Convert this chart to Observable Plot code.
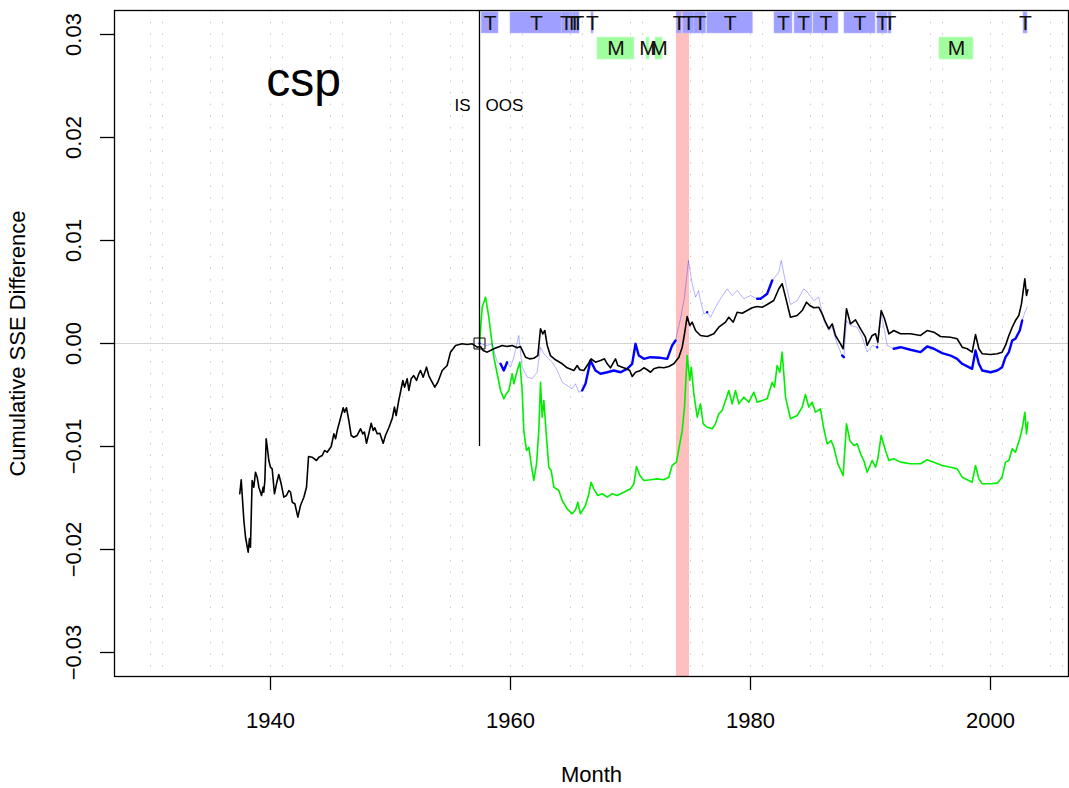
<!DOCTYPE html>
<html>
<head>
<meta charset="utf-8">
<script src="https://cdn.jsdelivr.net/npm/d3@7"></script>
<script src="https://cdn.jsdelivr.net/npm/@observablehq/plot@0.6"></script>
<style>
  html, body { margin: 0; padding: 0; background: #fff; }
  svg { display: block; font-family: "Liberation Sans", Arial, Helvetica, sans-serif; }
</style>
</head>
<body>
<div id="chart"></div>
<script>
// ---------------- data ----------------
const chartTitle = "csp";
const xTicks = [1940, 1960, 1980, 2000];
const yTicks = [-0.03, -0.02, -0.01, 0, 0.01, 0.02, 0.03];
const gridYears = [1930,1931,1935,1936,1940,1941,1945,1946,1950,1951,1955,1956,1960,1961,1965,1966,1970,1971,1975,1976,1980,1981,1985,1986,1990,1991,1995,1996,2000,2001,2005,2006];
const oosStart = 1957.417;

// black: in-sample + out-of-sample cumulative SSE difference (units of 0.001)
const blackYears = [1937.44,1937.56,1937.78,1937.92,1938.14,1938.25,1938.33,1938.47,1938.61,1938.75,1938.89,1939.03,1939.25,1939.39,1939.44,1939.53,1939.64,1939.73,1939.86,1940.0,1940.14,1940.33,1940.5,1940.69,1940.89,1941.11,1941.33,1941.53,1941.67,1941.81,1942.03,1942.28,1942.5,1942.78,1943.0,1943.17,1943.47,1943.83,1944.03,1944.31,1944.5,1944.72,1945.06,1945.28,1945.42,1945.56,1945.78,1946.06,1946.17,1946.33,1946.53,1946.72,1946.94,1947.22,1947.5,1947.69,1947.83,1948.0,1948.19,1948.39,1948.56,1948.69,1948.89,1949.11,1949.39,1949.58,1949.86,1950.14,1950.33,1950.47,1950.69,1950.83,1951.03,1951.17,1951.39,1951.53,1951.72,1951.94,1952.17,1952.36,1952.5,1952.72,1953.0,1953.19,1953.39,1953.69,1953.94,1954.31,1954.72,1955.0,1955.42,1955.97,1956.39,1956.81,1957.22,1957.5,1957.72,1958.06,1958.61,1959.31,1959.72,1960.14,1960.56,1960.83,1961.25,1961.58,1961.94,1962.28,1962.5,1962.69,1962.86,1963.06,1963.33,1963.75,1964.31,1964.72,1965.28,1965.56,1965.78,1966.11,1966.39,1966.72,1967.08,1967.5,1967.83,1968.06,1968.33,1968.75,1968.94,1969.31,1969.67,1969.94,1970.14,1970.42,1970.83,1971.11,1971.39,1971.67,1971.94,1972.36,1972.78,1973.19,1973.61,1974.03,1974.31,1974.5,1974.72,1974.94,1975.14,1975.42,1975.83,1976.39,1976.94,1977.36,1977.92,1978.19,1978.56,1978.89,1979.31,1979.72,1980.14,1980.56,1980.97,1981.39,1981.94,1982.36,1982.64,1982.92,1983.33,1983.89,1984.31,1984.67,1984.94,1985.28,1985.69,1985.97,1986.25,1986.53,1986.81,1987.08,1987.5,1987.72,1988.0,1988.33,1988.75,1989.17,1989.58,1989.72,1990.14,1990.42,1990.61,1990.89,1991.17,1991.53,1991.94,1992.5,1993.33,1994.17,1994.72,1995.28,1995.83,1996.67,1997.22,1997.64,1998.06,1998.47,1998.75,1999.03,1999.31,2000.0,2000.56,2000.97,2001.25,2001.53,2001.81,2002.08,2002.36,2002.58,2002.86,2003.0,2003.11];
const blackValues = [-14.59,-13.23,-17.18,-18.81,-20.26,-18.93,-19.78,-13.30,-13.95,-12.50,-12.98,-13.95,-14.76,-13.95,-14.44,-13.30,-9.25,-10.07,-11.36,-12.01,-12.17,-14.59,-13.62,-12.72,-13.62,-14.92,-14.76,-14.27,-14.44,-15.41,-15.56,-16.86,-15.73,-14.92,-13.95,-10.97,-11.04,-11.36,-11.04,-10.87,-10.39,-10.55,-10.0,-8.77,-9.25,-8.45,-7.48,-6.24,-6.67,-6.24,-7.48,-8.93,-9.10,-8.93,-8.28,-8.77,-8.61,-9.68,-8.77,-7.74,-8.45,-8.18,-8.77,-8.71,-9.68,-8.93,-8.18,-7.31,-6.18,-6.99,-5.53,-4.73,-3.59,-4.24,-3.43,-4.56,-3.43,-3.11,-3.59,-2.94,-2.62,-3.27,-2.30,-3.11,-3.59,-4.24,-3.76,-2.62,-2.14,-0.84,-0.19,-0.03,-0.10,-0.03,-0.36,-0.29,-0.68,-0.84,-0.51,-0.19,-0.29,-0.19,-0.42,-0.29,-1.33,-1.49,-1.43,-1.17,1.43,0.94,1.26,-0.19,-1.17,-1.58,-1.97,-2.36,-2.62,-2.14,-2.55,-2.62,-2.14,-1.49,-1.82,-1.65,-1.49,-1.97,-2.36,-1.49,-2.14,-2.30,-2.46,-2.62,-3.20,-2.79,-2.62,-2.36,-2.55,-2.79,-2.46,-2.30,-2.36,-2.23,-1.97,-1.33,-0.36,0.94,2.62,1.75,2.07,1.26,0.78,0.68,0.94,1.58,2.07,2.55,2.07,3.04,2.94,3.20,3.47,3.59,3.52,3.79,4.17,5.31,5.80,4.50,2.55,2.72,3.20,4.01,3.69,3.47,3.52,2.88,2.07,1.43,1.91,0.78,-0.03,-0.51,3.37,1.91,2.30,1.43,0.61,-0.19,0.78,0.94,0.13,3.20,2.40,0.94,1.26,0.94,0.94,0.78,1.26,1.10,0.68,0.61,0.46,-0.36,-0.51,-0.84,0.87,-0.51,-1.00,-1.07,-1.00,-0.84,-0.19,0.78,1.58,2.23,2.72,3.85,6.28,4.66,5.21];

// green: out-of-sample series
const greenYears = [1957.42,1957.64,1957.92,1958.19,1958.61,1958.89,1959.17,1959.44,1959.67,1959.86,1960.14,1960.28,1960.56,1960.78,1960.97,1961.11,1961.33,1961.53,1961.72,1961.94,1962.17,1962.36,1962.5,1962.64,1962.78,1963.0,1963.19,1963.39,1963.61,1964.03,1964.31,1964.72,1965.14,1965.42,1965.61,1965.83,1966.25,1966.53,1966.72,1966.94,1967.28,1967.64,1968.06,1968.47,1968.89,1969.44,1970.0,1970.28,1970.5,1970.78,1971.11,1971.67,1972.22,1972.78,1973.19,1973.47,1973.83,1974.03,1974.31,1974.5,1974.72,1974.94,1975.06,1975.28,1975.56,1975.83,1976.06,1976.39,1976.81,1977.08,1977.36,1977.64,1977.92,1978.19,1978.47,1978.75,1979.03,1979.44,1979.86,1980.28,1980.56,1980.97,1981.39,1981.81,1982.0,1982.22,1982.44,1982.64,1982.92,1983.33,1983.89,1984.31,1984.58,1984.86,1985.14,1985.42,1985.83,1986.11,1986.39,1986.72,1986.94,1987.28,1987.72,1988.0,1988.28,1988.61,1988.89,1989.17,1989.44,1989.72,1990.14,1990.42,1990.61,1990.89,1991.25,1991.53,1991.94,1992.5,1993.33,1994.17,1994.72,1995.28,1995.97,1996.67,1997.22,1997.64,1998.19,1998.47,1998.75,1999.03,1999.31,2000.0,2000.56,2000.97,2001.25,2001.53,2001.81,2002.08,2002.44,2002.64,2002.86,2003.0,2003.11];
const greenValues = [0.0,3.52,4.50,2.55,-1.33,-2.94,-4.56,-5.37,-4.85,-4.56,-2.94,-3.91,-2.62,-1.82,-4.56,-8.45,-10.39,-10.07,-11.68,-13.30,-11.68,-8.45,-3.76,-7.16,-5.53,-9.10,-12.01,-12.33,-13.95,-14.27,-15.24,-16.05,-16.53,-16.14,-15.41,-16.53,-15.73,-14.59,-13.47,-14.11,-14.76,-14.59,-14.92,-14.59,-14.76,-14.44,-14.11,-13.62,-11.94,-12.82,-13.30,-13.23,-13.14,-13.23,-12.98,-11.84,-11.52,-10.22,-8.45,-6.18,-1.17,-3.59,-2.30,-4.88,-7.16,-5.86,-7.80,-8.13,-8.28,-7.80,-6.83,-6.50,-5.53,-4.56,-5.86,-4.56,-5.86,-5.21,-5.70,-4.73,-5.70,-5.53,-5.37,-3.76,-4.24,-2.14,-2.79,-0.84,-5.21,-7.31,-6.99,-6.18,-4.95,-6.18,-5.70,-6.67,-6.34,-8.28,-9.74,-9.42,-10.07,-11.68,-12.82,-7.80,-9.42,-9.90,-9.74,-10.71,-11.36,-12.50,-11.36,-12.01,-11.19,-8.93,-10.39,-11.36,-11.19,-11.52,-11.68,-11.68,-11.29,-11.52,-11.84,-12.01,-12.17,-12.98,-13.30,-13.47,-11.84,-13.14,-13.62,-13.62,-13.56,-12.98,-11.52,-11.36,-10.22,-10.55,-9.25,-8.28,-6.67,-8.77,-7.64];

// blue: out-of-sample series
const blueYears = [1957.42,1958.06,1958.47,1958.89,1959.17,1959.44,1959.72,1960.0,1960.28,1960.69,1960.97,1961.39,1961.81,1962.22,1962.5,1962.78,1963.06,1963.47,1963.89,1964.31,1964.72,1965.14,1965.42,1965.69,1965.97,1966.25,1966.67,1967.08,1967.5,1968.06,1968.61,1969.17,1969.72,1970.14,1970.42,1970.69,1971.11,1971.67,1972.5,1973.06,1973.47,1973.75,1974.03,1974.17,1974.5,1974.83,1975.14,1975.42,1975.67,1975.83,1976.11,1976.39,1976.67,1977.08,1977.5,1978.06,1978.47,1978.89,1979.44,1980.0,1980.56,1980.83,1981.39,1981.81,1982.36,1982.56,1982.92,1983.33,1983.89,1984.44,1984.86,1985.28,1985.69,1986.11,1986.53,1986.81,1987.22,1987.64,1987.78,1988.0,1988.33,1988.89,1989.31,1989.58,1989.72,1990.14,1990.56,1990.89,1991.17,1991.39,1991.94,1992.5,1993.33,1994.17,1994.72,1995.28,1995.97,1996.67,1997.22,1997.64,1998.19,1998.47,1998.75,1999.03,1999.31,2000.0,2000.56,2000.97,2001.25,2001.53,2001.81,2002.08,2002.44,2002.64,2002.86,2003.06];
const blueValues = [0.0,-0.19,-0.03,-1.82,-1.97,-2.62,-1.82,-2.30,-1.33,0.78,-2.30,-3.27,-3.40,-2.79,-0.36,-1.00,-1.33,-1.82,-2.62,-3.76,-4.08,-4.40,-3.91,-4.73,-4.56,-3.91,-1.65,-2.62,-2.94,-2.79,-2.62,-2.79,-2.46,-1.97,-0.03,-1.17,-1.49,-1.33,-1.39,-1.49,-0.19,0.29,1.75,2.40,4.50,8.06,5.80,4.50,5.15,4.17,2.88,3.04,2.55,3.52,4.34,5.31,4.66,5.15,4.34,4.66,4.34,4.34,4.83,6.12,6.92,8.06,5.95,3.79,4.17,5.31,4.83,4.17,4.50,2.23,1.26,1.58,-0.03,-1.17,-1.33,2.23,1.75,1.58,0.61,-0.36,-0.84,-0.19,-0.36,2.88,1.26,-0.19,-0.51,-0.36,-0.61,-0.84,-0.29,-0.51,-0.94,-1.17,-1.49,-1.97,-2.30,-2.46,-0.68,-1.97,-2.62,-2.79,-2.62,-2.30,-1.33,-0.84,0.29,0.46,1.26,2.23,3.04,3.52];

// regime bars along the top
const tStarts = [1957.6,1960.0,1964.3,1965.0,1965.2,1965.5,1966.75,1973.85,1974.4,1975.3,1976.4,1982.0,1983.67,1985.25,1987.83,1990.58,1991.5,2002.75];
const tEnds   = [1959.0,1964.3,1965.0,1965.2,1965.5,1965.75,1966.92,1974.25,1975.3,1976.3,1980.2,1983.5,1985.17,1987.33,1990.42,1991.42,1991.75,2003.08];
const mStarts = [1967.25,1971.33,1972.08,1995.75];
const mEnds   = [1970.33,1971.58,1972.67,1998.58];
const recessionStart = [1973.83];
const recessionEnd = [1974.92];

// ---------------- build ----------------
const toRows = (xs, vs) => xs.map((x, i) => ({x, y: vs[i] / 1000}));
const black = toRows(blackYears, blackValues);
const green = toRows(greenYears, greenValues);
const blue = toRows(blueYears, blueValues);
const tBars = tStarts.map((s, i) => ({s, e: tEnds[i], m: (s + tEnds[i]) / 2, lab: "T"}));
const mBars = mStarts.map((s, i) => ({s, e: mEnds[i], m: (s + mEnds[i]) / 2, lab: "M"}));
const rec = recessionStart.map((s, i) => ({s, e: recessionEnd[i]}));
const inT = x => tBars.some(b => x >= b.s && x <= b.e);
const blueDark = blue.map(d => ({x: d.x, y: inT(d.x) ? NaN : d.y}));

const yTop = 0.03233, yBot = -0.03233;
const tBand = [0.0301, 0.03215];
const mBand = [0.02757, 0.0297];
const fmt = d3.format(".2f");

const chart = Plot.plot({
  width: 1069,
  height: 788,
  marginLeft: 114,
  marginRight: 1,
  marginTop: 10,
  marginBottom: 112,
  style: {fontFamily: '"Liberation Sans", Arial, Helvetica, sans-serif', background: "#fff"},
  x: {domain: [1927.0, 2006.5]},
  y: {domain: [yBot, yTop]},
  marks: [
    Plot.rect(rec, {x1: "s", x2: "e", y1: yBot, y2: yTop, fill: "rgb(255,191,191)"}),
    Plot.ruleX(gridYears, {stroke: "#c8c8c8", strokeWidth: 1, strokeDasharray: "1.5,10.2"}),
    Plot.ruleY([0], {stroke: "#d3d3d3", strokeWidth: 1.2}),
    Plot.rect(tBars, {x1: "s", x2: "e", y1: tBand[0], y2: tBand[1], fill: "rgb(159,159,255)", stroke: "rgb(185,185,255)", strokeWidth: 0.6}),
    Plot.rect(mBars, {x1: "s", x2: "e", y1: mBand[0], y2: mBand[1], fill: "rgb(159,255,159)", stroke: "rgb(185,255,185)", strokeWidth: 0.6}),
    Plot.text(tBars, {x: "m", y: (tBand[0] + tBand[1]) / 2, text: "lab", fontSize: 21, fill: "#111"}),
    Plot.text(mBars, {x: "m", y: (mBand[0] + mBand[1]) / 2, text: "lab", fontSize: 21, fill: "#111"}),
    Plot.line(green, {x: "x", y: "y", stroke: "#00ee00", strokeWidth: 1.6}),
    Plot.line(blue, {x: "x", y: "y", stroke: "#0000ff", strokeOpacity: 0.3, strokeWidth: 1}),
    Plot.line(blueDark, {x: "x", y: "y", stroke: "#0000ff", strokeWidth: 2.4}),
    Plot.line(black, {x: "x", y: "y", stroke: "#000", strokeWidth: 1.6}),
    Plot.ruleX([oosStart], {y1: -0.01, y2: yTop, stroke: "#000", strokeWidth: 1.3}),
    Plot.dot([{x: oosStart, y: 0}], {x: "x", y: "y", symbol: "square", r: 6.2, stroke: "#000", fill: "none", strokeWidth: 1}),
    Plot.text(["IS"], {x: oosStart, frameAnchor: "top", dy: 95, dx: -9, textAnchor: "end", lineAnchor: "middle", text: d => d, fontSize: 17}),
    Plot.text(["OOS"], {x: oosStart, frameAnchor: "top", dy: 95, dx: 6, textAnchor: "start", lineAnchor: "middle", text: d => d, fontSize: 17}),
    Plot.text([chartTitle], {frameAnchor: "top-left", dx: 189, dy: 70, textAnchor: "middle", lineAnchor: "middle", text: d => d, fontSize: 48}),
    Plot.frame({stroke: "#000", strokeWidth: 1.3}),
    Plot.axisX({ticks: xTicks, tickSize: 14, tickPadding: 22, fontSize: 22, label: null, tickFormat: d => String(d), strokeWidth: 1.3}),
    Plot.axisY({ticks: yTicks, tickSize: 14, tickPadding: 20, tickRotate: -90, fontSize: 22, label: null, tickFormat: fmt, strokeWidth: 1.3}),
    Plot.text(["Cumulative SSE Difference"], {frameAnchor: "left", dx: -97, rotate: -90, textAnchor: "middle", lineAnchor: "middle", text: d => d, fontSize: 22}),
    Plot.text(["Month"], {frameAnchor: "bottom", dy: 105, text: d => d, fontSize: 22})
  ]
});
document.getElementById("chart").appendChild(chart);
</script>
</body>
</html>
